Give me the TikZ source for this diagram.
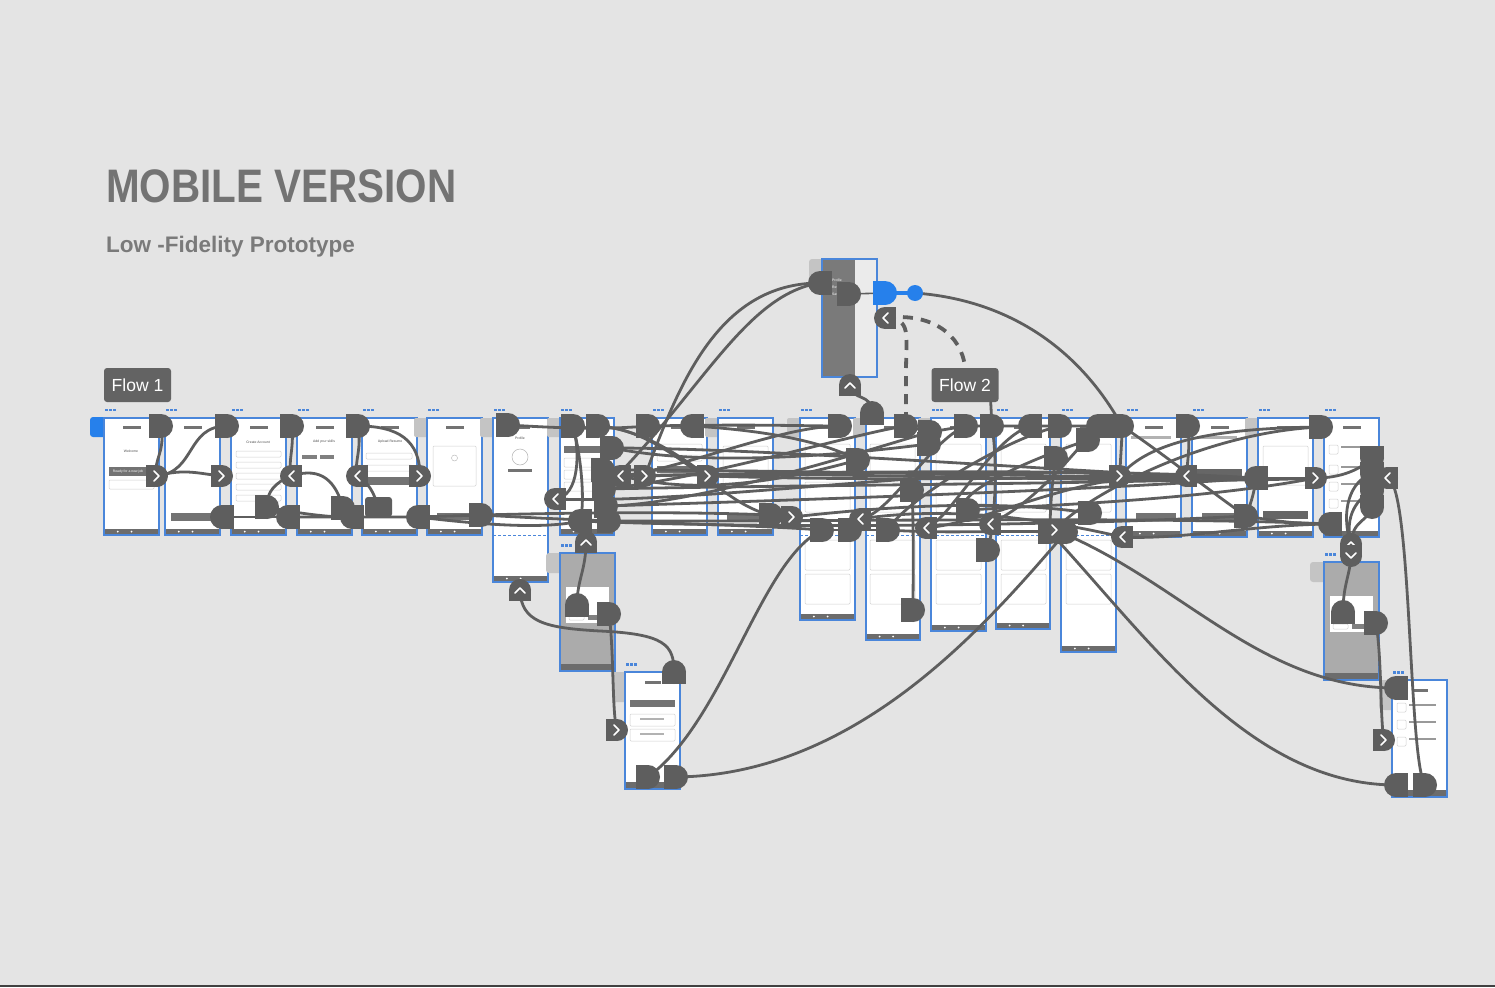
\documentclass[tikz,border=0pt]{standalone}
\usepackage{fontspec}
\setmainfont{Liberation Sans}
\usetikzlibrary{calc,positioning}

\definecolor{bgcol}{HTML}{E4E4E4}
\definecolor{wirecol}{HTML}{5E5E5E}
\definecolor{boardblue}{HTML}{4A86DA}
\definecolor{tabgray}{HTML}{C4C4C4}
\definecolor{titlegray}{HTML}{737373}
\definecolor{xdblue}{HTML}{2680EB}
\definecolor{barcol}{HTML}{6C6C6C}
\definecolor{shadecol}{HTML}{ABABAB}

\tikzset{
  wire/.style={draw=wirecol, line width=2.8pt, line cap=round},
  dashwire/.style={draw=wirecol, line width=3.8pt, dash pattern=on 10pt off 8pt},
  board/.style={fill=white, draw=boardblue, line width=1.1pt},
  cardline/.style={draw=black!18, line width=0.5pt, rounded corners=1pt},
  flowtag/.style={fill=wirecol!97, rounded corners=3pt, text=white,
    font=\fontsize{17.5}{17.5}\selectfont, minimum width=67pt, minimum height=34pt, inner sep=0pt},
  chevline/.style={draw=white, line width=1.7pt, line cap=round, line join=round},
  tiny/.style={font=\fontsize{3.4}{4}\selectfont, text=black!70, inner sep=0pt},
}

% D-shaped plug at a named point, rounded side turned by the angle
\newcommand\plug[3][wirecol]{%
  \begin{scope}[shift={(#2)},rotate=#3]
    \fill[#1] (0,0) circle[radius=12];
    \fill[#1] (-12,-12) rectangle (0,12);
  \end{scope}}
% round tab with a chevron, 0 = pointing right
\newcommand\chev[2]{%
  \begin{scope}[shift={(#1)},rotate=#2]
    \fill[wirecol] (0,0) circle[radius=11];
    \fill[wirecol] (-11,-11) rectangle (0,11);
    \draw[chevline] (-3,-5) -- (2,0) -- (-3,5);
  \end{scope}}

\begin{document}
\begin{tikzpicture}[x=1pt, y=-1pt]
\useasboundingbox (0,0) rectangle (1495,987);
\fill[bgcol] (0,0) rectangle (1495,987);
\fill[black!75] (0,985) rectangle (1495,987);

% --- titles ---
\node[anchor=base west, inner sep=0, text=titlegray] (title) at (106,202)
  {\scalebox{0.86}[1]{\fontsize{47}{47}\selectfont\bfseries MOBILE VERSION}};
\node[anchor=base west, inner sep=0, text=titlegray!95] (subtitle) at (106,252)
  {\fontsize{22.5}{22.5}\selectfont\bfseries Low -Fidelity Prototype};
\node[flowtag] (flowone) at (137.5,385) {Flow 1};
\node[flowtag] (flowtwo) at (965,385) {Flow 2};

% --- artboards ---
\fill[xdblue, rounded corners=3pt] (90,417) rectangle (106,437);
\foreach \xa/\xb/\yb [count=\i] in {104/159/535, 165/220/535, 231/286/535, 297/352/535,
    362/417/535, 427/482/535, 493/548/582, 560/614/535, 652/707/535, 718/773/535,
    800/855/620, 866/920/640, 931/986/631, 996/1050/629, 1061/1116/652,
    1126/1181/537, 1192/1247/537, 1258/1313/537, 1324/1379/537}{
  \ifnum\i>1 \fill[tabgray, rounded corners=2pt] (\xa-13,418) rectangle (\xa+2,437); \fi
  \filldraw[board] (\xa,418) rectangle (\xb,\yb);
  \fill[barcol] (\xa+0.6,\yb-6.5) rectangle (\xb-0.6,\yb-0.6);
  \fill[white] ({\xa+(\xb-\xa)*0.25},{\yb-3.5}) circle[radius=1];
  \fill[white] ({\xa+(\xb-\xa)*0.5},{\yb-3.5}) circle[radius=1];
  \fill[black!55] ({(\xa+\xb)/2-9},425.5) rectangle ({(\xa+\xb)/2+9},429);
  \foreach \d in {1,5,9} \fill[boardblue] (\xa+\d,408.5) rectangle +(2.6,2.6);
}
% scroll lines
\foreach \xa/\xb in {493/548, 800/855, 866/920, 931/986, 996/1050, 1061/1116}
  \draw[boardblue, line width=1pt, dash pattern=on 3pt off 2pt] (\xa,535) -- (\xb,535);

% overlays and lower boards
\foreach \xa/\ya in {560/553, 1324/562}{
  \fill[tabgray, rounded corners=3pt] (\xa-14,\ya) rectangle (\xa+2,\ya+20);
  \filldraw[board, fill=shadecol] (\xa,\ya) rectangle (\xa+55,\ya+118);
  \fill[barcol] (\xa+0.6,\ya+111) rectangle (\xa+54.4,\ya+117.4);
  \fill[white] (\xa+6,\ya+34) rectangle (\xa+49,\ya+70);
  \draw[cardline] (\xa+9,\ya+62) rectangle (\xa+24,\ya+67);
  \fill[black!50] (\xa+28,\ya+62) rectangle (\xa+46,\ya+67);
  \foreach \d in {1,5,9} \fill[boardblue] (\xa+\d,\ya-9) rectangle +(2.6,2.6);
}
\foreach \xa/\ya in {625/672, 1392/680}{
  \fill[tabgray, rounded corners=3pt] (\xa-13,\ya) rectangle (\xa+2,\ya+30);
  \filldraw[board] (\xa,\ya) rectangle (\xa+55,\ya+117);
  \fill[barcol] (\xa+0.6,\ya+110) rectangle (\xa+54.4,\ya+116.4);
  \fill[black!55] (\xa+20,\ya+9) rectangle (\xa+36,\ya+12);
  \foreach \d in {1,5,9} \fill[boardblue] (\xa+\d,\ya-9) rectangle +(2.6,2.6);
}
\fill[black!55] (630,700) rectangle (675,707);
\foreach \yy in {714,729}{\draw[cardline] (630,\yy) rectangle (675,\yy+12);
  \fill[black!30] (640,\yy+4) rectangle (664,\yy+5.5);}
\foreach \yy in {703,720,737}{\draw[cardline] (1397,\yy) rectangle (1406,\yy+9);
  \fill[black!40] (1409,\yy+1) rectangle (1436,\yy+2.5);}

% menu board
\fill[tabgray, rounded corners=3pt] (809,259) rectangle (824,290);
\filldraw[board, fill=black!8] (822,259) rectangle (877,377);
\fill[black!52] (822.6,259.6) rectangle (855,376.4);
\foreach \yy/\t in {280/Profile, 287/Resume, 294/Saved Jobs}
  \node[tiny, text=white, anchor=west] at (832,\yy) {\t};

% board contents
\node[tiny] at (131,451) {Welcome};
\fill[black!55] (109,467) rectangle (154,476);
\node[tiny, text=white] at (128,471.5) {Ready for a new job};
\draw[cardline] (109,480) rectangle (154,489);
\fill[black!55] (171,513) rectangle (215,521);
\node[tiny] at (258,442) {Create Account};
\foreach \yy in {451,462,473,484,495} \draw[cardline] (236,\yy) rectangle (281,\yy+6);
\node[tiny] at (324,442) {Add your skills};
\fill[black!50] (302,455) rectangle (317,459);\fill[black!50] (320,455) rectangle (334,459);
\node[tiny] at (390,442) {Upload Resume};
\foreach \yy in {453,465} \draw[cardline] (366,\yy) rectangle (412,\yy+6);
\fill[black!55] (366,477) rectangle (412,485);
\draw[cardline] (433,446) rectangle (476,486);
\draw[black!30, line width=0.4pt] (454.5,458) circle[radius=3];
\fill[black!55] (437,513) rectangle (472,520);
\node[tiny] at (520,438) {Profile};
\draw[black!30, line width=0.5pt] (520,457) circle[radius=8];
\fill[black!55] (508,469) rectangle (532,472);
\fill[black!55] (564,446) rectangle (608,453);
\foreach \yy in {458,470,482} \draw[cardline] (564,\yy) rectangle (608,\yy+9);
\foreach \yy in {444,455} \draw[cardline] (657,\yy) rectangle (702,\yy+6);
\fill[black!55] (657,466) rectangle (702,473);
\draw[cardline] (723,446) rectangle (768,485);
\fill[black!55] (727,513) rectangle (768,520);
\foreach \xa in {805,870,936,1001,1066}{
  \draw[cardline] (\xa,444) rectangle (\xa+45,478);
  \draw[cardline] (\xa,482) rectangle (\xa+45,512);
  \draw[cardline] (\xa,540) rectangle (\xa+45,570);
  \draw[cardline] (\xa,574) rectangle (\xa+45,604);
}
\foreach \yy in {445,465,482,499} {\draw[cardline] (1329,\yy) rectangle (1338,\yy+9);
  \fill[black!40] (1341,\yy+1) rectangle (1366,\yy+2.5);}
\foreach \xa in {1131,1197} {\fill[black!30] (\xa,436) rectangle (\xa+40,439);
  \fill[black!55] (\xa+5,513) rectangle (\xa+45,520);}
\fill[black!60] (1197,469) rectangle (1242,477);
\draw[cardline] (1263,446) rectangle (1308,485);
\fill[black!60] (1263,511) rectangle (1308,519);

% --- points where the links meet the boards ---
\coordinate (pa) at (161,426);  \coordinate (pb) at (227,426);
\coordinate (pc) at (292,426);  \coordinate (pd) at (358,426);
\coordinate (pe) at (508,425);  \coordinate (pf) at (573,426);
\coordinate (pg) at (598,426);  \coordinate (ph) at (648,426);
\coordinate (pi) at (692,426);  \coordinate (pj) at (840,426);
\coordinate (pk) at (872,413);  \coordinate (pl) at (906,426);
\coordinate (pm) at (930,432);  \coordinate (pn) at (966,426);
\coordinate (po) at (992,426);  \coordinate (pp) at (1030,426);
\coordinate (pq) at (1060,426); \coordinate (pr) at (1098,426);
\coordinate (ps) at (1122,426); \coordinate (pt) at (1188,426);
\coordinate (pu) at (1321,427);
\coordinate (qa) at (612,448);  \coordinate (qb) at (603,470);
\coordinate (qc) at (604,489);  \coordinate (qd) at (606,506);
\coordinate (qe) at (858,460);  \coordinate (qf) at (912,490);
\coordinate (qg) at (929,444);  \coordinate (qh) at (1056,458);
\coordinate (qi) at (1372,458); \coordinate (qj) at (1372,474);
\coordinate (qk) at (1372,491); \coordinate (ql) at (1372,507);
\coordinate (qm) at (1256,478); \coordinate (qn) at (1088,440);
\coordinate (ba) at (222,517);  \coordinate (bb) at (288,517);
\coordinate (bc) at (267,507);  \coordinate (bd) at (343,508);
\coordinate (be) at (352,517);  \coordinate (bf) at (418,517);
\coordinate (bg) at (481,515);  \coordinate (bh) at (580,521);
\coordinate (bi) at (609,521);  \coordinate (bj) at (771,515);
\coordinate (bk) at (822,530);  \coordinate (bl) at (850,530);
\coordinate (bm) at (888,530);  \coordinate (bn) at (1050,532);
\coordinate (bo) at (1066,532); \coordinate (bp) at (1090,513);
\coordinate (bq) at (1246,516); \coordinate (br) at (1330,524);
\coordinate (bs) at (988,550);  \coordinate (bt) at (913,610);
\coordinate (bu) at (968,510);
\coordinate (blk) at (378,507);
\coordinate (oa) at (577,605);  \coordinate (ob) at (609,614);
\coordinate (oc) at (1343,612); \coordinate (od) at (1376,623);
\coordinate (aa) at (674,672);  \coordinate (ab) at (648,777);
\coordinate (ac) at (676,777);  \coordinate (da) at (1396,688);
\coordinate (db) at (1396,785); \coordinate (dc) at (1425,785);
\coordinate (ma) at (820,283);  \coordinate (mb) at (849,294);
\coordinate (xa) at (885,293);  \coordinate (xb) at (915,293);
\coordinate (ca) at (157,476);  \coordinate (cb) at (222,476);
\coordinate (cc) at (291,476);  \coordinate (cd) at (357,476);
\coordinate (ce) at (420,476);  \coordinate (cf) at (555,499);
\coordinate (cg) at (620,476);  \coordinate (ch) at (645,476);
\coordinate (ci) at (708,476);  \coordinate (cj) at (792,517);
\coordinate (ck) at (860,519);  \coordinate (cl) at (926,528);
\coordinate (cm) at (990,524);  \coordinate (cn) at (1055,530);
\coordinate (co) at (1120,476); \coordinate (cp) at (1122,537);
\coordinate (cq) at (1186,476); \coordinate (cr) at (1316,478);
\coordinate (cs) at (1387,478); \coordinate (ct) at (1351,544);
\coordinate (cu) at (1351,556); \coordinate (cv) at (586,542);
\coordinate (cw) at (520,590);  \coordinate (cx) at (617,730);
\coordinate (cy) at (1384,740); \coordinate (cz) at (850,385);
\coordinate (cza) at (885,318);
\coordinate (va) at (600,631);  \coordinate (vb) at (906,372);

% --- links ---
% left flow
\draw[wire] (pa) .. controls (166,452) and (152,462) .. (ca);
\draw[wire] (ca) .. controls (196,472) and (186,426) .. (pb);
\draw[wire] (ca) .. controls (185,468) and (200,474) .. (cb);
\draw[wire] (ba) -- (bb);
\draw[wire] (pc) .. controls (294,450) and (288,460) .. (cc);
\draw[wire] (cc) .. controls (276,482) and (266,492) .. (bc);
\draw[wire] (cc) .. controls (322,466) and (336,482) .. (bd);
\draw[wire] (pd) .. controls (362,450) and (354,462) .. (cd);
\draw[wire] (cd) .. controls (368,482) and (374,492) .. (blk);
\draw[wire] (pd) .. controls (398,426) and (420,440) .. (ce);
\draw[wire] (bb) -- (be) -- (bf) -- (bg);
\draw[wire] (bc) .. controls (290,512) and (330,518) .. (be);
\draw[wire] (bg) .. controls (600,512) and (700,512) .. (bj);
\draw[wire] (bg) .. controls (620,523) and (740,524) .. (bk);
\draw[wire] (bf) .. controls (500,527) and (550,528) .. (bh);
% profile and its neighbours
\draw[wire] (pe) .. controls (560,428) and (600,430) .. (ph);
\draw[wire] (ph) -- (pi);
\draw[wire] (cf) .. controls (580,497) and (580,450) .. (pf);
\draw[wire] (pf) .. controls (582,460) and (585,505) .. (bh);
\draw[wire] (pg) .. controls (650,430) and (690,465) .. (ci);
\draw[wire] (pg) .. controls (670,430) and (720,505) .. (bj);
\draw[wire] (bh) .. controls (584,530) and (586,535) .. (cv);
\draw[wire] (oa) .. controls (577,580) and (586,570) .. (cv);
\draw[wire] (ob) .. controls (614,650) and (612,715) .. (cx);
\draw[wire] (cw) .. controls (521,622) and (545,628) .. (va) .. controls (665,634) and (674,645) .. (aa);
\draw[wire] (ab) .. controls (725,720) and (760,560) .. (bk);
\draw[wire] (ac) .. controls (860,775) and (990,620) .. (bo);
% menu
\draw[wire] (ma) .. controls (720,283) and (680,380) .. (ch);
\draw[wire] (ma) .. controls (745,294) and (700,395) .. (qc);
\draw[wire, line width=1.6pt] (mb) -- (xa);
\draw[xdblue, line width=4pt] (xa) -- (xb);
\draw[wire] (xb) .. controls (1010,300) and (1080,350) .. (ps) .. controls (1165,455) and (1215,495) .. (bq);
\draw[dashwire] (cza) .. controls (912,318) and (906,335) .. (vb) -- (pl);
\draw[dashwire] (cza) .. controls (932,312) and (962,335) .. (flowtwo.north);
\draw[wire] (cz) .. controls (852,402) and (872,392) .. (pk);
\draw[wire] ($(flowtwo.south east)+(-8,0)$) -- (po);
% bundle across the middle
\draw[wire] (qa) .. controls (760,448) and (1050,470) .. (cq);
\draw[wire] (qb) .. controls (800,470) and (1100,478) .. (qm);
\draw[wire] (qc) .. controls (800,485) and (1100,484) .. (qm);
\draw[wire] (qd) .. controls (800,500) and (1100,490) .. (qm);
\draw[wire] (cg) .. controls (800,472) and (1100,468) .. (qm);
\draw[wire] (ci) .. controls (900,482) and (1100,476) .. (qm);
\draw[wire] (cf) .. controls (700,505) and (1000,460) .. (co);
\draw[wire] (ch) .. controls (850,470) and (1150,486) .. (cr);
\draw[wire] (bi) .. controls (800,522) and (1150,516) .. (br);
\draw[wire] (bh) .. controls (800,530) and (1100,524) .. (bq);
\draw[wire] (qm) -- (cr);
\draw[wire] (qm) .. controls (1254,495) and (1250,505) .. (bq);
\draw[wire] (bq) .. controls (1280,522) and (1300,524) .. (br);
% from the right-hand boards back to the left
\draw[wire] (pj) .. controls (780,426) and (680,470) .. (cg);
\draw[wire] (pl) .. controls (860,432) and (700,480) .. (qc);
\draw[wire] (pm) .. controls (880,446) and (700,505) .. (qd);
\draw[wire] (qe) .. controls (820,470) and (700,505) .. (qb);
\draw[wire] (qg) .. controls (880,450) and (720,470) .. (qa);
\draw[wire] (ph) .. controls (760,424) and (800,426) .. (pj);
\draw[wire] (pi) .. controls (760,430) and (820,440) .. (qe);
\draw[wire] (pn) .. controls (930,440) and (890,515) .. (ck);
\draw[wire] (pp) .. controls (990,440) and (950,520) .. (cl);
\draw[wire] (pq) .. controls (1000,440) and (900,505) .. (bm);
\draw[wire] (pr) .. controls (1080,445) and (1040,500) .. (cm);
\draw[wire] (pu) .. controls (1220,428) and (1150,440) .. (co);
\draw[wire] (pu) .. controls (1200,432) and (1080,500) .. (cn);
\draw[wire] (pt) .. controls (1190,445) and (1188,460) .. (cq);
\draw[wire] (ps) .. controls (1122,445) and (1120,460) .. (co);
\draw[wire] (pl) -- (pm) -- (pn) -- (po) -- (pp) -- (pq) -- (pr);
\draw[wire] (po) .. controls (998,465) and (995,520) .. (bs);
\draw[wire] (qh) .. controls (1052,480) and (1050,510) .. (bn);
\draw[wire] (qf) .. controls (914,540) and (913,580) .. (bt);
\draw[wire] (qn) .. controls (1000,470) and (950,500) .. (bu);
\draw[wire] (bj) -- (cj);
\draw[wire] (cj) .. controls (900,505) and (1000,500) .. (bp);
\draw[wire] (bk) -- (bl) -- (bm);
\draw[wire] (bm) .. controls (950,534) and (1000,530) .. (bn);
\draw[wire] (ck) .. controls (950,505) and (1050,520) .. (cp);
\draw[wire] (cl) .. controls (1000,520) and (1080,470) .. (cq);
\draw[wire] (bu) .. controls (1050,505) and (1200,500) .. (cr);
\draw[wire] (co) -- (cq);
\draw[wire] (cp) .. controls (1180,540) and (1250,525) .. (br);
% long curves to the lower right
\draw[wire] (cn) .. controls (1180,580) and (1260,688) .. (da);
\draw[wire] (bn) .. controls (1150,640) and (1250,785) .. (db);
\draw[wire] (cs) .. controls (1412,480) and (1408,760) .. (dc);
\draw[wire] (oc) .. controls (1343,585) and (1350,575) .. (cu);
\draw[wire] (od) .. controls (1382,660) and (1380,720) .. (cy);
\draw[wire] (ct) .. controls (1352,520) and (1368,522) .. (ql);
\draw[wire] (ct) .. controls (1344,515) and (1358,498) .. (qk);
\draw[wire] (ct) .. controls (1340,512) and (1350,480) .. (qj);
\draw[wire] (cr) .. controls (1340,478) and (1360,470) .. (qi);

% --- plugs and tabs on top ---
\foreach \n in {pa,pb,pc,pd,pe,pf,pg,ph,pj,pl,pm,pn,po,pq,ps,pt,pu,
                qa,qb,qc,qd,qe,qf,qg,qh,qn,bc,bd,bg,bi,bj,bk,bl,bm,bn,bo,bp,bq,bs,bt,bu,
                ob,od,ab,ac,dc,mb}
  \plug{\n}{0};
\foreach \n in {pi,pp,pr,qm,ba,bb,be,bf,bh,br,da,db,ma}
  \plug{\n}{180};
\foreach \n in {pk,oa,oc,aa}
  \plug{\n}{90};
\foreach \n in {qi,qj,qk,ql}
  \plug{\n}{-90};
\plug[xdblue]{xa}{0};
\fill[xdblue] (xb) circle[radius=8];
\fill[wirecol, rounded corners=3pt] (365,497) rectangle (392,517);
\foreach \n in {ca,cb,ce,ch,ci,cj,cn,co,cr,cx,cy}
  \chev{\n}{0};
\foreach \n in {cc,cd,cf,cg,ck,cl,cm,cp,cq,cs,cza}
  \chev{\n}{180};
\foreach \n in {ct,cv,cw,cz}
  \chev{\n}{90};
\chev{cu}{-90};
\end{tikzpicture}
\end{document}
